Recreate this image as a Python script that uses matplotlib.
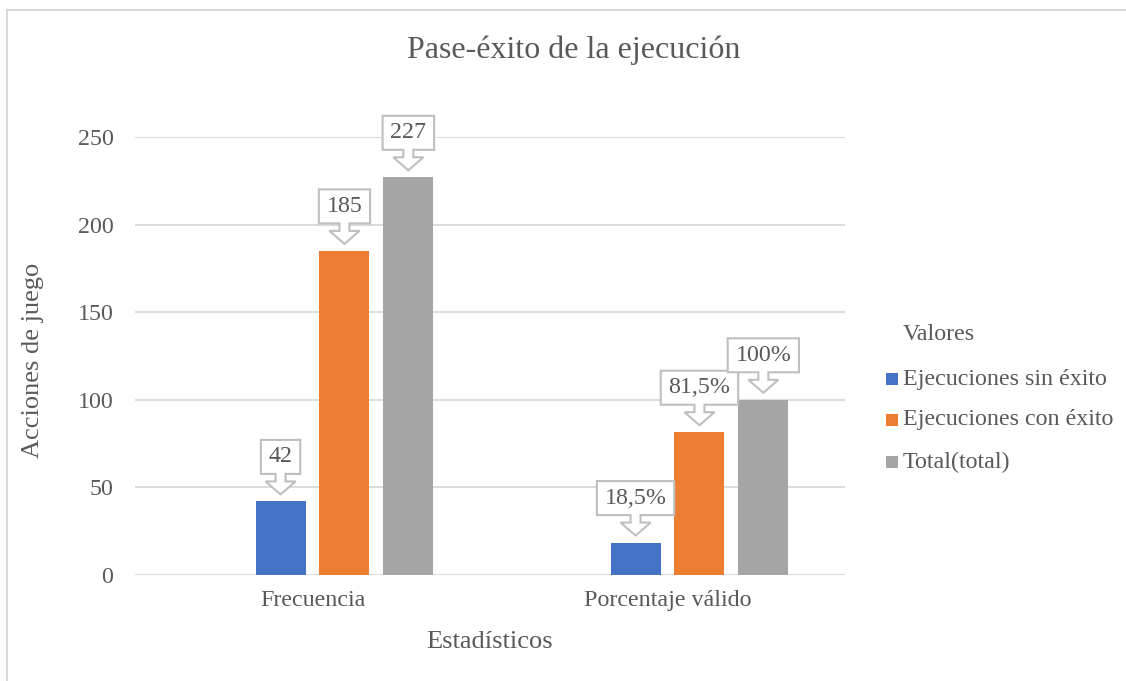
import matplotlib
matplotlib.use("Agg")
import matplotlib.pyplot as plt
from matplotlib.patches import Polygon, Rectangle
from matplotlib.lines import Line2D
from matplotlib.transforms import IdentityTransform
import numpy as np

# ---- data ----
categories = ["Frecuencia", "Porcentaje válido"]
series_names = ["Ejecuciones sin éxito", "Ejecuciones con éxito", "Total(total)"]
sin_exito = [42, 18.5]
con_exito = [185, 81.5]
total = [227, 100]
label_sin = ["42", "18,5%"]
label_con = ["185", "81,5%"]
label_total = ["227", "100%"]
yticks = [0, 50, 100, 150, 200, 250]

# ---- style ----
colors = ["#4472C4", "#ED7D31", "#A5A5A5"]
TXT = "#595959"
GRID = "#D9D9D9"
CALL = "#BFBFBF"
plt.rcParams['font.family'] = ['Liberation Serif', 'DejaVu Serif']
FS = 17.3

W, H = 1126, 681
fig = plt.figure(figsize=(W / 100, H / 100), dpi=100)
fig.patch.set_facecolor("white")

# outer chart border (left + top visible)
fig.add_artist(Line2D([7 / W, 7 / W], [0, 1 - 10 / H], transform=fig.transFigure,
                      color=GRID, lw=1.5))
fig.add_artist(Line2D([7 / W, 1], [1 - 10 / H, 1 - 10 / H], transform=fig.transFigure,
                      color=GRID, lw=1.5))

ax = fig.add_axes([135 / W, 1 - 575 / H, 710 / W, 438 / H])
ax.set_xlim(-0.5, 1.5)
ax.set_ylim(0, 250)

x = np.arange(len(categories))
bw = 50 / 355
offsets = [-0.09, 0.09, 0.27]
all_vals = [sin_exito, con_exito, total]
all_labels = [label_sin, label_con, label_total]
for vals, off, c in zip(all_vals, offsets, colors):
    ax.bar(x + off, vals, width=bw, color=c, zorder=2)

ax.set_yticks(yticks)
ax.set_xticks(x)
ax.set_xticklabels(categories)
ax.yaxis.grid(True, color=GRID, lw=1.3, zorder=0)
ax.set_axisbelow(True)
for s in ax.spines.values():
    s.set_visible(False)
ax.tick_params(axis='both', length=0, labelsize=FS, colors=TXT)
ax.tick_params(axis='y', pad=15.5)
ax.tick_params(axis='x', pad=11)

# ---- callouts ----
fig.canvas.draw()
renderer = fig.canvas.get_renderer()
for vals, off, labs in zip(all_vals, offsets, all_labels):
    for xi, v, lab in zip(x, vals, labs):
        t = ax.annotate(lab, xy=(xi + off, v), xytext=(0, 44.5 * 0.72),
                        textcoords='offset points', ha='center', va='center',
                        fontsize=FS, color=TXT, zorder=6, annotation_clip=False)
        ext = t.get_window_extent(renderer)
        ax_, ay_ = ax.transData.transform((xi + off, v))
        hw = ext.width / 2 + 7.7
        pts = [
            (ax_, ay_ + 7),
            (ax_ - 15, ay_ + 20),
            (ax_ - 5, ay_ + 20),
            (ax_ - 5, ay_ + 27.5),
            (ax_ - hw, ay_ + 27.5),
            (ax_ - hw, ay_ + 61.5),
            (ax_ + hw, ay_ + 61.5),
            (ax_ + hw, ay_ + 27.5),
            (ax_ + 5, ay_ + 27.5),
            (ax_ + 5, ay_ + 20),
            (ax_ + 15, ay_ + 20),
        ]
        poly = Polygon(pts, closed=True, facecolor="white", edgecolor=CALL,
                       lw=1.5, transform=IdentityTransform(), zorder=5,
                       clip_on=False)
        ax.add_patch(poly)

ax.set_xlim(-0.5, 1.5)
ax.set_ylim(0, 250)

# ---- titles ----
fig.text(574 / W, 1 - 50 / H, "Pase-éxito de la ejecución", ha='center', va='center',
         fontsize=23, color=TXT)
fig.text(33 / W, 1 - 360 / H, "Acciones de juego", ha='center', va='center',
         rotation=90, fontsize=19, color=TXT)
fig.text(490 / W, 1 - 642 / H, "Estadísticos", ha='center', va='center',
         fontsize=19, color=TXT)

# ---- legend ----
fig.text(903 / W, 1 - 334 / H, "Valores", ha='left', va='center', fontsize=FS, color=TXT)
ys = [379, 420, 462]
for name, c, yy in zip(series_names, colors, ys):
    fig.add_artist(Rectangle((886 / W, 1 - (yy + 6) / H), 12 / W, 12 / H,
                             transform=fig.transFigure, facecolor=c, edgecolor='none'))
    fig.text(903 / W, 1 - yy / H, name, ha='left', va='center', fontsize=FS, color=TXT)

fig.savefig("out.png", dpi=100)
